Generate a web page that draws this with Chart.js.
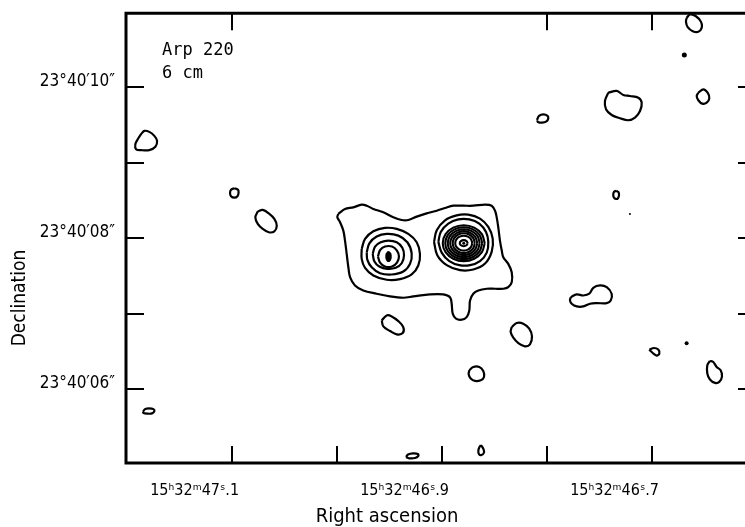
<!DOCTYPE html>
<html><head><meta charset="utf-8">
<script src="https://cdn.jsdelivr.net/npm/chart.js@4"></script>
<style>html,body{margin:0;padding:0;background:#fff}#wrap{width:745px;height:527px}</style>
</head><body><div id="wrap"><canvas id="c" width="745" height="527"></canvas></div>
<script>
// ---- axis ticks (RA in seconds of time after 15h32m, Dec in arcsec after 23°40')
const raTickValues = [47.1, 47.0, 46.9, 46.8, 46.7];
const raTopTickValues = [47.1, 46.8, 46.7];
const raTickLabels = ['15ʰ32ᵐ47ˢ.1', '', '15ʰ32ᵐ46ˢ.9', '', '15ʰ32ᵐ46ˢ.7'];
const decTickValues = [6, 7, 8, 9, 10];
const decTickLabels = ['23°40′06″', '', '23°40′08″', '', '23°40′10″'];
const raRange = [46.6114, 47.2010];
const decRange = [5.0211, 10.9789];

// ---- contours: [RA seconds, Dec arcsec]
const envelope = [[46.9988,8.320],[46.9924,8.386],[46.9845,8.407],[46.9765,8.443],[46.9717,8.429],[46.9654,8.386],[46.9559,8.341],[46.9464,8.275],[46.9384,8.240],[46.9321,8.240],[46.9241,8.284],[46.9146,8.328],[46.9050,8.363],[46.8971,8.399],[46.8892,8.429],[46.8797,8.429],[46.8702,8.429],[46.8590,8.443],[46.8527,8.429],[46.8495,8.363],[46.8479,8.275],[46.8464,8.143],[46.8448,7.967],[46.8431,7.835],[46.8416,7.746],[46.8369,7.659],[46.8336,7.548],[46.8336,7.416],[46.8369,7.350],[46.8416,7.329],[46.8495,7.329],[46.8574,7.329],[46.8654,7.306],[46.8702,7.263],[46.8733,7.174],[46.8740,7.042],[46.8765,6.954],[46.8812,6.919],[46.8867,6.933],[46.8898,6.999],[46.8908,7.131],[46.8924,7.218],[46.8988,7.254],[46.9114,7.254],[46.9273,7.227],[46.9369,7.210],[46.9495,7.227],[46.9622,7.263],[46.9750,7.306],[46.9829,7.373],[46.9876,7.482],[46.9892,7.614],[46.9908,7.791],[46.9924,7.967],[46.9940,8.099],[46.9971,8.209],[46.9997,8.275]];
const westRing1 = [[46.9765,7.857],[46.9733,7.989],[46.9654,8.090],[46.9543,8.135],[46.9431,8.122],[46.9321,8.055],[46.9241,7.945],[46.9210,7.791],[46.9226,7.637],[46.9289,7.518],[46.9400,7.456],[46.9527,7.448],[46.9654,7.505],[46.9733,7.606],[46.9765,7.725]];
const westRing2 = [[46.9717,7.812],[46.9692,7.931],[46.9622,8.020],[46.9527,8.055],[46.9416,8.033],[46.9330,7.945],[46.9289,7.799],[46.9305,7.659],[46.9369,7.557],[46.9479,7.518],[46.9590,7.535],[46.9670,7.614],[46.9711,7.712]];
const westRing3 = [[46.9660,7.791],[46.9638,7.888],[46.9584,7.945],[46.9511,7.967],[46.9431,7.945],[46.9378,7.871],[46.9362,7.769],[46.9384,7.667],[46.9441,7.606],[46.9521,7.593],[46.9597,7.624],[46.9645,7.694]];
const westRing4 = [[46.9610,7.756],[46.9590,7.841],[46.9543,7.888],[46.9476,7.888],[46.9429,7.835],[46.9410,7.756],[46.9429,7.676],[46.9476,7.624],[46.9543,7.624],[46.9590,7.676]];
const westCore = [[46.9511,7.822],[46.9490,7.795],[46.9486,7.742],[46.9500,7.696],[46.9519,7.696],[46.9533,7.742],[46.9529,7.795]];
const eastRing1 = [[46.9076,7.950],[46.9050,8.103],[46.8971,8.235],[46.8860,8.301],[46.8750,8.310],[46.8638,8.258],[46.8559,8.148],[46.8517,7.993],[46.8527,7.818],[46.8590,7.663],[46.8702,7.584],[46.8829,7.575],[46.8955,7.641],[46.9045,7.773]];
const eastRing2 = [[46.9035,7.950],[46.9012,8.082],[46.8940,8.192],[46.8845,8.248],[46.8740,8.248],[46.8645,8.192],[46.8581,8.082],[46.8559,7.950],[46.8574,7.808],[46.8638,7.694],[46.8733,7.641],[46.8835,7.641],[46.8930,7.694],[46.9003,7.808]];
const eastRing3 = [[46.8593,7.933],[46.8620,8.052],[46.8693,8.139],[46.8793,8.171],[46.8893,8.139],[46.8966,8.052],[46.8993,7.933],[46.8966,7.814],[46.8893,7.727],[46.8793,7.695],[46.8693,7.727],[46.8620,7.814]];
const eastRing4 = [[46.8617,7.933],[46.8641,8.039],[46.8705,8.116],[46.8793,8.144],[46.8881,8.116],[46.8945,8.039],[46.8969,7.933],[46.8945,7.827],[46.8881,7.750],[46.8793,7.722],[46.8705,7.750],[46.8641,7.827]];
const eastRing5 = [[46.8641,7.933],[46.8661,8.026],[46.8717,8.093],[46.8793,8.118],[46.8869,8.093],[46.8925,8.026],[46.8945,7.933],[46.8925,7.840],[46.8869,7.773],[46.8793,7.748],[46.8717,7.773],[46.8661,7.840]];
const eastRing6 = [[46.8664,7.933],[46.8682,8.012],[46.8729,8.070],[46.8793,8.092],[46.8857,8.070],[46.8904,8.012],[46.8922,7.933],[46.8904,7.854],[46.8857,7.796],[46.8793,7.775],[46.8729,7.796],[46.8682,7.854]];
const eastRing7 = [[46.8688,7.933],[46.8702,7.999],[46.8741,8.047],[46.8793,8.065],[46.8845,8.047],[46.8884,7.999],[46.8898,7.933],[46.8884,7.867],[46.8845,7.819],[46.8793,7.801],[46.8741,7.819],[46.8702,7.867]];
const eastRing8 = [[46.8712,7.933],[46.8723,7.983],[46.8753,8.019],[46.8793,8.032],[46.8833,8.019],[46.8863,7.983],[46.8874,7.933],[46.8863,7.883],[46.8833,7.847],[46.8793,7.834],[46.8753,7.847],[46.8723,7.883]];
const eastRing9 = [[46.8755,7.933],[46.8766,7.961],[46.8793,7.973],[46.8820,7.961],[46.8831,7.933],[46.8820,7.905],[46.8793,7.893],[46.8766,7.905]];
const fieldWestEdge = [[47.1867,9.376],[47.1835,9.420],[47.1788,9.407],[47.1740,9.354],[47.1714,9.288],[47.1730,9.209],[47.1788,9.165],[47.1867,9.165],[47.1914,9.178],[47.1921,9.244],[47.1898,9.310]];
const fieldSmallW = [[47.0978,8.661],[47.0943,8.641],[47.0938,8.597],[47.0948,8.555],[47.0978,8.535],[47.1010,8.555],[47.1019,8.597],[47.1010,8.641]];
const fieldNW = [[47.0755,8.354],[47.0708,8.373],[47.0650,8.328],[47.0597,8.254],[47.0574,8.165],[47.0597,8.090],[47.0650,8.077],[47.0708,8.122],[47.0755,8.188],[47.0778,8.275]];
const fieldTopEdge = [[46.6670,10.917],[46.6638,10.962],[46.6581,10.939],[46.6533,10.864],[46.6527,10.785],[46.6559,10.732],[46.6612,10.741],[46.6660,10.794],[46.6676,10.864]];
const fieldNE1 = [[46.6559,9.926],[46.6511,9.971],[46.6470,9.926],[46.6454,9.852],[46.6479,9.794],[46.6521,9.781],[46.6559,9.826],[46.6574,9.882]];
const fieldNE2 = [[46.7416,9.926],[46.7336,9.949],[46.7273,9.896],[46.7210,9.882],[46.7130,9.860],[46.7098,9.794],[46.7114,9.684],[46.7162,9.596],[46.7226,9.561],[46.7305,9.588],[46.7384,9.631],[46.7438,9.707],[46.7448,9.816]];
const fieldN = [[46.8095,9.565],[46.8076,9.618],[46.8033,9.638],[46.7995,9.618],[46.7988,9.585],[46.8005,9.546],[46.8048,9.530],[46.8086,9.539]];
const fieldE = [[46.7341,8.627],[46.7319,8.608],[46.7314,8.568],[46.7324,8.528],[46.7343,8.518],[46.7362,8.535],[46.7369,8.575],[46.7362,8.612]];
const fieldSE1 = [[46.7774,7.218],[46.7717,7.254],[46.7654,7.240],[46.7597,7.263],[46.7559,7.342],[46.7495,7.373],[46.7431,7.350],[46.7384,7.263],[46.7393,7.174],[46.7431,7.139],[46.7527,7.139],[46.7590,7.131],[46.7654,7.095],[46.7717,7.095],[46.7765,7.131],[46.7781,7.174]];
const fieldS1 = [[46.8336,6.822],[46.8289,6.875],[46.8226,6.867],[46.8169,6.801],[46.8143,6.699],[46.8162,6.593],[46.8210,6.567],[46.8273,6.610],[46.8321,6.682],[46.8346,6.756]];
const fieldS2 = [[46.8740,6.250],[46.8702,6.293],[46.8645,6.293],[46.8607,6.240],[46.8600,6.161],[46.8631,6.118],[46.8686,6.108],[46.8727,6.140],[46.8746,6.197]];
const fieldSE2 = [[46.7026,6.523],[46.6981,6.544],[46.6940,6.523],[46.6930,6.470],[46.6955,6.444],[46.6993,6.478]];
const fieldSE3 = [[46.6448,6.373],[46.6416,6.359],[46.6384,6.293],[46.6346,6.250],[46.6333,6.170],[46.6359,6.095],[46.6400,6.082],[46.6448,6.127],[46.6473,6.206],[46.6473,6.316]];
const fieldS3 = [[46.8629,5.259],[46.8605,5.206],[46.8600,5.160],[46.8624,5.127],[46.8648,5.140],[46.8654,5.186],[46.8643,5.233]];
const fieldS4 = [[46.9343,5.100],[46.9324,5.133],[46.9276,5.149],[46.9229,5.140],[46.9226,5.114],[46.9257,5.087],[46.9314,5.083]];
const fieldS5 = [[46.9574,6.910],[46.9527,6.976],[46.9479,6.963],[46.9416,6.901],[46.9369,6.822],[46.9374,6.742],[46.9431,6.725],[46.9495,6.769],[46.9559,6.831]];
const fieldSW = [[47.1848,5.701],[47.1829,5.735],[47.1790,5.744],[47.1748,5.735],[47.1740,5.708],[47.1762,5.678],[47.1810,5.675],[47.1843,5.684]];
const peakDots = [[46.8793,7.933],[46.6692,10.424],[46.6670,6.606],[46.7210,8.320]];
const peakDotSizes = [1.5, 2.5, 2, 1];

const thickContours = [envelope, westRing1, westRing2, westRing3, westRing4, eastRing1, eastRing2,
  fieldWestEdge, fieldSmallW, fieldNW, fieldTopEdge, fieldNE1, fieldNE2, fieldN, fieldE, fieldSE1,
  fieldS1, fieldS2, fieldSE2, fieldSE3, fieldS3, fieldS4, fieldS5, fieldSW];
const thinContours = [eastRing3, eastRing4, eastRing5, eastRing6, eastRing7, eastRing8, eastRing9];

const toPts = arr => { const p = arr.map(([x, y]) => ({x, y})); p.push({...p[0]}); return p; };
const datasets = [];
thickContours.forEach(c => datasets.push({data: toPts(c), showLine: true, borderColor: '#000', borderWidth: 2.2, pointRadius: 0, tension: 0.35, fill: false}));
thinContours.forEach(c => datasets.push({data: toPts(c), showLine: true, borderColor: '#000', borderWidth: 2.1, pointRadius: 0, tension: 0.35, fill: false}));
datasets.push({data: toPts(westCore), showLine: true, borderColor: '#000', backgroundColor: '#000', borderWidth: 1.5, pointRadius: 0, tension: 0.35, fill: 'shape'});
datasets.push({data: peakDots.map(([x, y]) => ({x, y})), showLine: false, pointRadius: peakDotSizes, pointBackgroundColor: '#000', pointBorderWidth: 0});

const FONT = "'DejaVu Sans Condensed', 'DejaVu Sans', sans-serif";
const MONO = "'DejaVu Sans Mono', monospace";

const framePlugin = {
  id: 'frame',
  afterDatasetsDraw(chart) {
    const {ctx, chartArea: a, scales: {x, y}} = chart;
    ctx.save();
    ctx.strokeStyle = '#000';
    ctx.lineWidth = 3;
    ctx.beginPath();
    ctx.moveTo(a.right + 2, a.top); ctx.lineTo(a.left, a.top); ctx.lineTo(a.left, a.bottom); ctx.lineTo(a.right + 2, a.bottom);
    ctx.stroke();
    ctx.lineWidth = 2;
    ctx.beginPath();
    raTickValues.forEach(v => {
      const px = Math.round(x.getPixelForValue(v));
      ctx.moveTo(px, a.bottom); ctx.lineTo(px, a.bottom - 17);
    });
    raTopTickValues.forEach(v => {
      const px = Math.round(x.getPixelForValue(v));
      ctx.moveTo(px, a.top); ctx.lineTo(px, a.top + 17);
    });
    decTickValues.forEach(v => {
      const py = Math.round(y.getPixelForValue(v));
      ctx.moveTo(a.left, py); ctx.lineTo(a.left + 18, py);
      ctx.moveTo(a.right, py); ctx.lineTo(a.right - 7, py);
    });
    ctx.stroke();
    ctx.fillStyle = '#000';
    ctx.font = '17px ' + MONO;
    ctx.textAlign = 'left'; ctx.textBaseline = 'alphabetic';
    ctx.fillText('Arp 220', a.left + 36, 55);
    ctx.fillText('6 cm', a.left + 36, 78);
    ctx.font = '20px ' + FONT;
    ctx.textAlign = 'center';
    ctx.fillText('Right ascension', 387, 522);
    ctx.font = '19px ' + FONT;
    ctx.translate(25, 298); ctx.rotate(-Math.PI / 2);
    ctx.fillText('Declination', 0, 0);
    ctx.restore();
  }
};

new Chart(document.getElementById('c'), {
  type: 'scatter',
  data: {datasets},
  options: {
    responsive: false, animation: false, devicePixelRatio: 1,
    layout: {padding: {top: 12, right: 0, left: 0, bottom: 0}, autoPadding: false},
    plugins: {legend: {display: false}, tooltip: {enabled: false}},
    scales: {
      x: {
        type: 'linear', reverse: true, min: raRange[0], max: raRange[1],
        afterBuildTicks: s => { s.ticks = raTickValues.map(v => ({value: v})); },
        afterFit: s => { s.height = 64; },
        grid: {display: false}, border: {display: false},
        ticks: {align: 'end', labelOffset: 7, padding: 10, color: '#000', font: {family: FONT, size: 16},
          autoSkip: false, maxRotation: 0, callback: (v, i) => raTickLabels[i]}
      },
      y: {
        type: 'linear', min: decRange[0], max: decRange[1],
        afterBuildTicks: s => { s.ticks = decTickValues.map(v => ({value: v})); },
        afterFit: s => { s.width = 126; },
        grid: {display: false}, border: {display: false},
        ticks: {padding: 3, labelOffset: -6, color: '#000', font: {family: FONT, size: 17},
          autoSkip: false, callback: (v, i) => decTickLabels[i]}
      }
    }
  },
  plugins: [framePlugin]
});
</script></body></html>
